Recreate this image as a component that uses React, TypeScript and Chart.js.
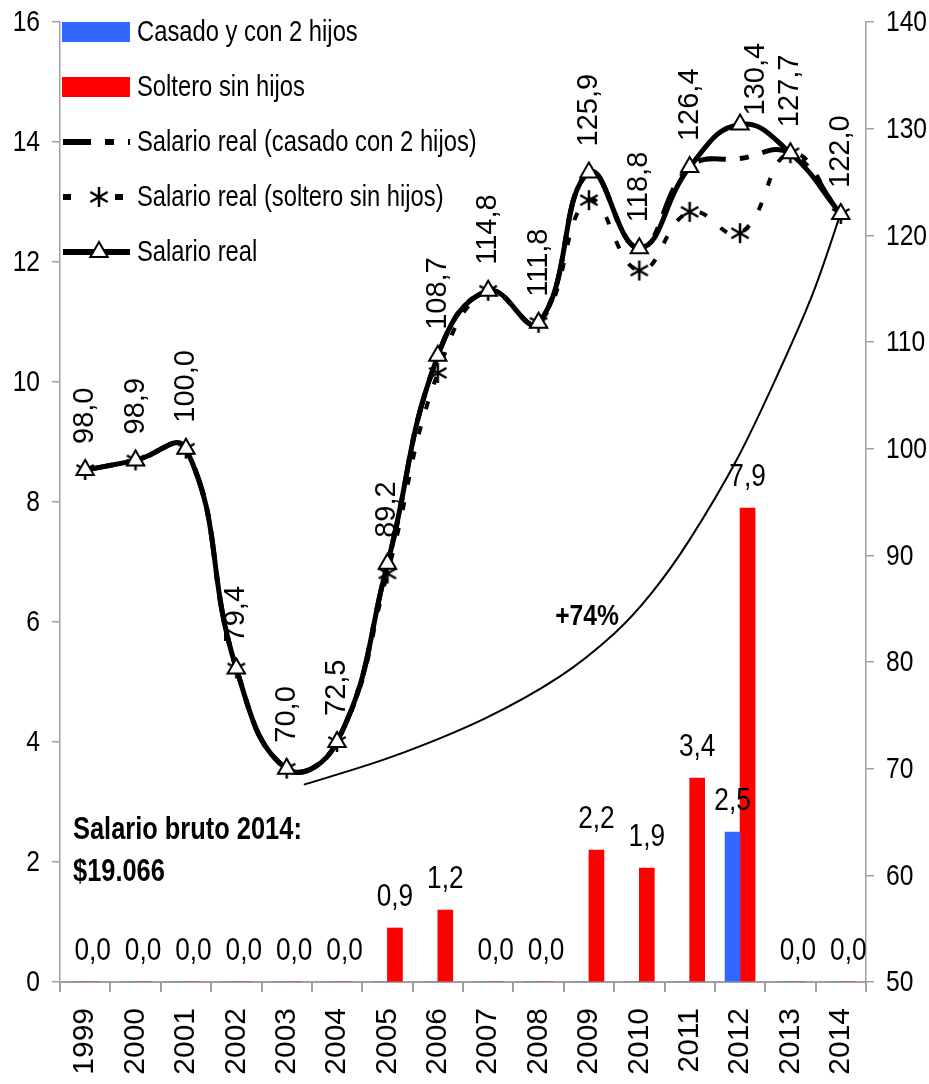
import React, { useEffect, useRef } from 'react';
import { Chart, registerables } from 'chart.js';

Chart.register(...registerables);

// ---------- data ----------
const years = ['1999', '2000', '2001', '2002', '2003', '2004', '2005', '2006', '2007', '2008', '2009', '2010', '2011', '2012', '2013', '2014'];
const casadoBars = [0, 0, 0, 0, 0, 0, 0, 0, 0, 0, 0, 0, 0, 2.5, 0, 0];
const solteroBars = [0, 0, 0, 0, 0, 0, 0.9, 1.2, 0, 0, 2.2, 1.9, 3.4, 7.9, 0, 0];
const salarioReal = [98.0, 98.9, 100.0, 79.4, 70.0, 72.5, 89.2, 108.7, 114.8, 111.8, 125.9, 118.8, 126.4, 130.4, 127.7, 122.0];
const salarioRealCasado = [98.0, 98.9, 100.0, 79.4, 70.0, 72.5, 89.2, 108.7, 114.8, 111.8, 125.9, 118.8, 126.4, 127.2, 127.7, 122.0];
const salarioRealSoltero = [98.0, 98.9, 100.0, 79.4, 70.0, 72.5, 88.3, 107.1, 114.8, 111.8, 123.3, 116.7, 122.2, 120.2, 127.7, 122.0];
// trend annotation curve (x = category index, y = right axis value)
const trendX = [4.34, 6.08, 7.93, 9.41, 10.51, 11.25, 11.99, 12.96, 13.79, 14.45, 15.0];
const trendY = [68.5, 71.1, 74.7, 78.6, 82.7, 86.5, 91.4, 99.2, 107.4, 114.6, 122.1];
const leftMin = 0, leftMax = 16, leftStep = 2;
const rightMin = 50, rightMax = 140, rightStep = 10;
const legendLabels = ['Casado y con 2 hijos', 'Soltero sin hijos', 'Salario real (casado con 2 hijos)', 'Salario real (soltero sin hijos)', 'Salario real'];
const noteLine1 = 'Salario bruto 2014:';
const noteLine2 = '$19.066';
const trendNote = '+74%';
const trendNoteAt = { x: 9.33, y: 83.5 };

// ---------- styles ----------
const REG = '"Liberation Sans", Arial, sans-serif';
const SQUEEZE = 0.82;
const BLUE = '#3366FF';
const RED = '#FF0000';
const AXIS = '#a0a0a0';
const DASH_CASADO = [28, 14, 9, 14];
const DASH_SOLTERO = [8, 18];
// per-point shift of rotated line labels [dx, dy]
const lineLabelShift: Record<number, [number, number]> = { 13: [16, 17] };

const fmt = (v: number) => v.toFixed(1).replace('.', ',');

// condensed text: horizontally squeezed
function ctext(ctx: CanvasRenderingContext2D, text: string, x: number, y: number, align: 'left' | 'center' | 'right') {
  const w = ctx.measureText(text).width * SQUEEZE;
  let x0 = x;
  if (align === 'center') x0 = x - w / 2;
  else if (align === 'right') x0 = x - w;
  ctx.save();
  ctx.textAlign = 'left';
  ctx.translate(x0, y);
  ctx.scale(SQUEEZE, 1);
  ctx.fillText(text, 0, 0);
  ctx.restore();
}

function drawStar(ctx: CanvasRenderingContext2D, cx: number, cy: number, r: number, lw: number) {
  ctx.save();
  ctx.strokeStyle = '#000';
  ctx.lineWidth = lw;
  ctx.beginPath();
  for (const ang of [90, 30, -30]) {
    const a = (ang * Math.PI) / 180;
    const dx = Math.cos(a) * r, dy = Math.sin(a) * r;
    ctx.moveTo(cx - dx, cy - dy);
    ctx.lineTo(cx + dx, cy + dy);
  }
  ctx.stroke();
  ctx.restore();
}

function drawTriangle(ctx: CanvasRenderingContext2D, cx: number, cy: number, r: number) {
  const h = 1.5 * r;
  const half = (Math.sqrt(3) * r) / 2;
  ctx.save();
  ctx.beginPath();
  ctx.moveTo(cx, cy - r);
  ctx.lineTo(cx + half, cy - r + h);
  ctx.lineTo(cx - half, cy - r + h);
  ctx.closePath();
  ctx.fillStyle = '#fff';
  ctx.fill();
  ctx.lineWidth = 2;
  ctx.strokeStyle = '#000';
  ctx.stroke();
  ctx.restore();
}

const IDX_CASADO_BAR = 0, IDX_SOLTERO_BAR = 1, IDX_REAL = 4;

// pixel of a fractional category index
function catPix(chart: any, idx: number) {
  const xs = chart.scales.x;
  const p0 = xs.getPixelForValue(0);
  const p1 = xs.getPixelForValue(1);
  return p0 + idx * (p1 - p0);
}

const trendPlugin = {
  id: 'trendCurve',
  beforeDatasetsDraw(chart: any) {
    const ctx: CanvasRenderingContext2D = chart.ctx;
    const y1 = chart.scales.y1;
    const pts = trendX.map((x, i) => ({ x: catPix(chart, x), y: y1.getPixelForValue(trendY[i]) }));
    ctx.save();
    ctx.strokeStyle = '#000';
    ctx.lineWidth = 2;
    ctx.beginPath();
    ctx.moveTo(pts[0].x, pts[0].y);
    for (let i = 0; i < pts.length - 1; i++) {
      const p0 = pts[Math.max(0, i - 1)], p1 = pts[i], p2 = pts[i + 1], p3 = pts[Math.min(pts.length - 1, i + 2)];
      const c1x = p1.x + (p2.x - p0.x) / 6, c1y = p1.y + (p2.y - p0.y) / 6;
      const c2x = p2.x - (p3.x - p1.x) / 6, c2y = p2.y - (p3.y - p1.y) / 6;
      ctx.bezierCurveTo(c1x, c1y, c2x, c2y, p2.x, p2.y);
    }
    ctx.stroke();
    ctx.restore();
  },
};

const labelsPlugin = {
  id: 'valueLabels',
  afterDatasetsDraw(chart: any) {
    const ctx: CanvasRenderingContext2D = chart.ctx;
    const a = chart.chartArea;
    ctx.save();
    ctx.fillStyle = '#000';
    // axis tick labels (condensed)
    ctx.font = `30px ${REG}`;
    ctx.textBaseline = 'middle';
    for (let v = leftMin; v <= leftMax; v += leftStep) {
      ctext(ctx, String(v), a.left - 20, chart.scales.y.getPixelForValue(v) + 1, 'right');
    }
    for (let v = rightMin; v <= rightMax; v += rightStep) {
      ctext(ctx, String(v), a.right + 20, chart.scales.y1.getPixelForValue(v) + 1, 'left');
    }
    // bar labels
    ctx.font = `32px ${REG}`;
    ctx.textBaseline = 'alphabetic';
    const sMeta = chart.getDatasetMeta(IDX_SOLTERO_BAR);
    sMeta.data.forEach((b: any, i: number) => {
      ctext(ctx, fmt(solteroBars[i]), b.x, b.y - 22, 'center');
    });
    const cMeta = chart.getDatasetMeta(IDX_CASADO_BAR);
    cMeta.data.forEach((b: any, i: number) => {
      if (casadoBars[i] !== 0) ctext(ctx, fmt(casadoBars[i]), b.x, b.y - 22, 'center');
    });
    // rotated line labels
    ctx.font = `29px ${REG}`;
    ctx.textAlign = 'left';
    ctx.textBaseline = 'middle';
    const rMeta = chart.getDatasetMeta(IDX_REAL);
    rMeta.data.forEach((p: any, i: number) => {
      const sh = lineLabelShift[i] || [0, 0];
      ctx.save();
      ctx.translate(p.x + sh[0], p.y - 26 + sh[1]);
      ctx.rotate(-Math.PI / 2);
      ctx.fillText(fmt(salarioReal[i]), 0, 0);
      ctx.restore();
    });
    // notes
    ctx.font = `bold 31px ${REG}`;
    ctx.textBaseline = 'alphabetic';
    ctext(ctx, noteLine1, a.left + 13, chart.scales.y.getPixelForValue(2.39), 'left');
    ctext(ctx, noteLine2, a.left + 13, chart.scales.y.getPixelForValue(1.69), 'left');
    ctx.font = `bold 30px ${REG}`;
    ctext(ctx, trendNote, catPix(chart, trendNoteAt.x), chart.scales.y1.getPixelForValue(trendNoteAt.y), 'left');
    ctx.restore();
  },
};

const legendPlugin = {
  id: 'insideLegend',
  afterDraw(chart: any) {
    const ctx: CanvasRenderingContext2D = chart.ctx;
    const a = chart.chartArea;
    const x0 = a.left + 2, x1 = a.left + 70, tx = a.left + 77;
    const xm = (x0 + x1) / 2 + 3;
    const rowY = (i: number) => a.top + 10 + i * 55;
    ctx.save();
    ctx.fillStyle = BLUE;
    ctx.fillRect(x0, rowY(0) - 10, x1 - x0, 20);
    ctx.fillStyle = RED;
    ctx.fillRect(x0, rowY(1) - 10, x1 - x0, 20);
    ctx.strokeStyle = '#000';
    ctx.lineWidth = 6;
    ctx.setLineDash(DASH_CASADO);
    ctx.beginPath();
    ctx.moveTo(x0 + 1, rowY(2));
    ctx.lineTo(x1, rowY(2));
    ctx.stroke();
    ctx.setLineDash(DASH_SOLTERO);
    ctx.beginPath();
    ctx.moveTo(x0 + 1, rowY(3));
    ctx.lineTo(x1, rowY(3));
    ctx.stroke();
    ctx.setLineDash([]);
    ctx.fillStyle = '#fff';
    ctx.fillRect(xm - 12, rowY(3) - 4, 24, 8);
    drawStar(ctx, xm, rowY(3), 10, 2.5);
    ctx.lineWidth = 6;
    ctx.beginPath();
    ctx.moveTo(x0 + 1, rowY(4));
    ctx.lineTo(x1, rowY(4));
    ctx.stroke();
    drawTriangle(ctx, xm, rowY(4), 10);
    ctx.fillStyle = '#000';
    ctx.font = `29px ${REG}`;
    ctx.textBaseline = 'middle';
    legendLabels.forEach((t, i) => ctext(ctx, t, tx, rowY(i) + 1, 'left'));
    ctx.restore();
  },
};

export default function App() {
  const ref = useRef<HTMLCanvasElement | null>(null);
  useEffect(() => {
    if (!ref.current) return;
    const starCanvas = document.createElement('canvas');
    starCanvas.width = 22;
    starCanvas.height = 22;
    const sctx = starCanvas.getContext('2d')!;
    drawStar(sctx, 11, 11, 10, 2.5);

    const chart = new Chart(ref.current, {
      type: 'bar',
      data: {
        labels: years,
        datasets: [
          { type: 'bar', label: legendLabels[0], data: casadoBars, backgroundColor: BLUE, yAxisID: 'y', xAxisID: 'x', barThickness: 15, order: 5 } as any,
          { type: 'bar', label: legendLabels[1], data: solteroBars, backgroundColor: RED, yAxisID: 'y', xAxisID: 'x', barThickness: 15, order: 6 } as any,
          { type: 'line', label: legendLabels[2], data: salarioRealCasado, yAxisID: 'y1', xAxisID: 'x', borderColor: '#000', borderWidth: 5, borderDash: DASH_CASADO, tension: 0.45, pointRadius: 0, order: 2 } as any,
          { type: 'line', label: legendLabels[3], data: salarioRealSoltero, yAxisID: 'y1', xAxisID: 'x', borderColor: '#000', borderWidth: 4, borderDash: DASH_SOLTERO, tension: 0.45, pointStyle: starCanvas, pointRadius: 10, order: 3 } as any,
          { type: 'line', label: legendLabels[4], data: salarioReal, yAxisID: 'y1', xAxisID: 'x', borderColor: '#000', borderWidth: 5, tension: 0.45, pointStyle: 'triangle', pointRadius: 10, pointBackgroundColor: '#fff', pointBorderColor: '#000', pointBorderWidth: 2, order: 1 } as any,
        ],
      },
      options: {
        responsive: false,
        animation: false,
        devicePixelRatio: 1,
        events: [],
        layout: { padding: { top: 22, left: 0, right: 0, bottom: 0 } },
        plugins: { legend: { display: false }, tooltip: { enabled: false }, title: { display: false } },
        scales: {
          x: {
            type: 'category',
            position: 'bottom',
            offset: true,
            grid: { display: true, offset: true, drawOnChartArea: false, drawTicks: true, tickLength: 10, color: AXIS, lineWidth: 2 },
            border: { display: true, color: AXIS, width: 2 },
            ticks: { color: '#000', font: { family: REG, size: 30 }, minRotation: 90, maxRotation: 90, padding: 16, autoSkip: false },
            afterFit: (s: any) => { s.height = 102; },
          },
          y: {
            type: 'linear',
            position: 'left',
            min: leftMin,
            max: leftMax,
            grid: { display: true, drawOnChartArea: false, drawTicks: true, tickLength: 8, color: AXIS, lineWidth: 1.5 },
            border: { display: true, color: AXIS, width: 1.5 },
            ticks: { stepSize: leftStep, display: false },
            afterFit: (s: any) => { s.width = 60; },
          },
          y1: {
            type: 'linear',
            position: 'right',
            min: rightMin,
            max: rightMax,
            grid: { display: true, drawOnChartArea: false, drawTicks: true, tickLength: 8, color: AXIS, lineWidth: 1.5 },
            border: { display: true, color: AXIS, width: 1.5 },
            ticks: { stepSize: rightStep, display: false },
            afterFit: (s: any) => { s.width = 63; },
          },
        },
      } as any,
      plugins: [trendPlugin, labelsPlugin, legendPlugin],
    });
    return () => chart.destroy();
  }, []);

  return (
    <div style={{ position: 'fixed', left: 0, top: 0, width: 929, height: 1084, background: '#fff' }}>
      <canvas ref={ref} width={929} height={1084} style={{ width: 929, height: 1084, display: 'block' }} />
    </div>
  );
}
